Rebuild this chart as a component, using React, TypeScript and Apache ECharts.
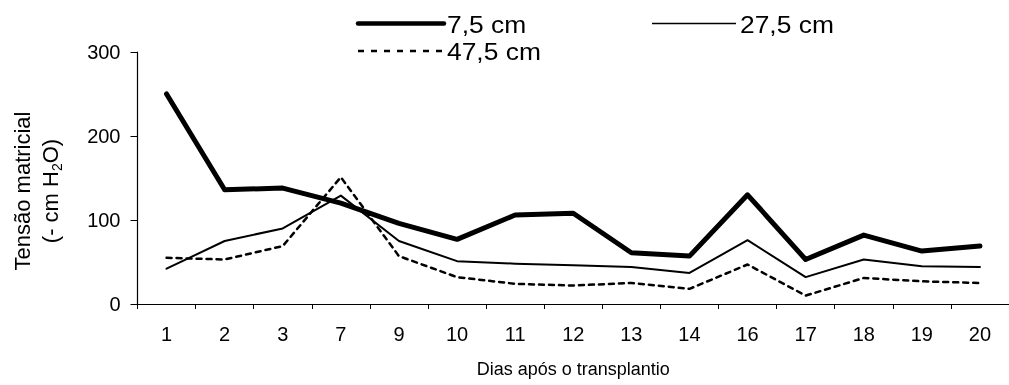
import React, { useEffect, useRef } from "react";
import * as echarts from "echarts";

const categories = ["1", "2", "3", "7", "9", "10", "11", "12", "13", "14", "16", "17", "18", "19", "20"];
const seriesNames = ["7,5 cm", "27,5 cm", "47,5 cm"];
const s75 = [250, 136, 138, 120, 96, 77, 106, 108, 61, 57, 130, 53, 82, 63, 69];
const s275 = [42, 75, 90, 129, 75, 51, 48, 46, 44, 37, 76, 32, 53, 45, 44];
const s475 = [55, 53, 69, 151, 57, 32, 24, 22, 25, 18, 47, 10, 31, 27, 25];
const yTicks = { min: 0, max: 300, interval: 100 };
const xTitle = "Dias após o transplantio";

const FONT = "'Liberation Sans', Arial, sans-serif";

export default function App() {
  const ref = useRef<HTMLDivElement>(null);
  useEffect(() => {
    if (!ref.current) return;
    const chart = echarts.init(ref.current, null, { renderer: "svg" });
    const styles = [
      { width: 5, type: "solid" as any },
      { width: 2, type: "solid" as any },
      { width: 2.5, type: [5, 5] as any },
    ];
    const datas = [s75, s275, s475];
    chart.setOption({
      animation: false,
      textStyle: { fontFamily: FONT, color: "#000" },
      grid: { left: 137.5, right: -9.75, top: 52, bottom: 81, containLabel: false },
      xAxis: {
        type: "category",
        data: categories,
        boundaryGap: true,
        axisLine: { lineStyle: { color: "#000", width: 1.2 } },
        axisTick: { show: true, length: 5, lineStyle: { color: "#000" } },
        axisLabel: { color: "#000", fontSize: 20, margin: 20, fontFamily: FONT },
        name: xTitle,
        nameLocation: "middle",
        nameGap: 56,
        nameTextStyle: { color: "#000", fontSize: 18, fontFamily: FONT },
        splitLine: { show: false },
      },
      yAxis: {
        type: "value",
        min: yTicks.min,
        max: yTicks.max,
        interval: yTicks.interval,
        axisLine: { show: true, lineStyle: { color: "#000", width: 1.2 } },
        axisTick: { show: true, length: 7, lineStyle: { color: "#000" } },
        axisLabel: { color: "#000", fontSize: 20, margin: 17, fontFamily: FONT },
        splitLine: { show: false },
      },
      series: datas.map((d, i) => ({
        type: "line",
        name: seriesNames[i],
        data: d,
        symbol: "none",
        lineStyle: { color: "#000", width: styles[i].width, type: styles[i].type, cap: "round", join: "round" },
        z: 3 - i,
      })),
      graphic: [
        {
          type: "text",
          x: 36,
          y: 191,
          rotation: Math.PI / 2,
          style: {
            text: "Tensão matricial\n(- cm H{sub|2}O)",
            fontSize: 22,
            lineHeight: 28,
            fontFamily: FONT,
            fill: "#000",
            align: "center",
            verticalAlign: "middle",
            rich: {
              sub: { fontSize: 14, fontFamily: FONT, verticalAlign: "bottom", lineHeight: 16, padding: [10, 0, 0, 0] },
            },
          },
        },
        { type: "line", shape: { x1: 358, y1: 23.5, x2: 444, y2: 23.5 }, style: { stroke: "#000", lineWidth: 4.5, lineCap: "round" } },
        { type: "text", x: 447, y: 24, scaleX: 1.1, style: { text: seriesNames[0], fontSize: 24, fontFamily: FONT, fill: "#000", align: "left", verticalAlign: "middle" } },
        { type: "line", shape: { x1: 652, y1: 23.5, x2: 736, y2: 23.5 }, style: { stroke: "#000", lineWidth: 1.7 } },
        { type: "text", x: 740, y: 24, scaleX: 1.1, style: { text: seriesNames[1], fontSize: 24, fontFamily: FONT, fill: "#000", align: "left", verticalAlign: "middle" } },
        { type: "line", shape: { x1: 358, y1: 51, x2: 442, y2: 51 }, style: { stroke: "#000", lineWidth: 2.5, lineDash: [6, 7] } },
        { type: "text", x: 447, y: 51, scaleX: 1.1, style: { text: seriesNames[2], fontSize: 24, fontFamily: FONT, fill: "#000", align: "left", verticalAlign: "middle" } },
      ],
    });
    return () => chart.dispose();
  }, []);
  return <div ref={ref} style={{ position: "fixed", left: 0, top: 0, width: 1009, height: 385 }} />;
}
